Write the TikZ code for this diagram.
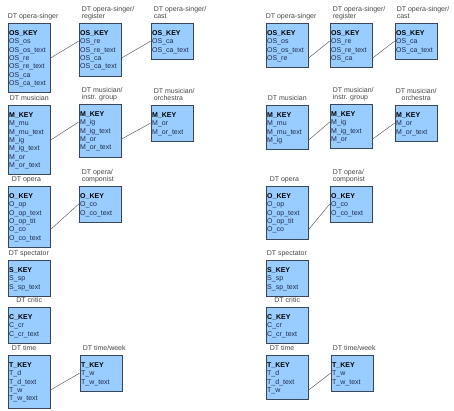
\documentclass[tikz,border=0pt]{standalone}
\usepackage{fontspec}
\setmainfont{Liberation Sans}
\usepackage{tikz}
\usetikzlibrary{positioning,fit,backgrounds,calc}
\usepackage{xcolor}
\definecolor{tablefill}{RGB}{153,204,255}
\definecolor{tableline}{RGB}{55,70,90}
\definecolor{fieldtext}{RGB}{30,45,80}
\definecolor{titletext}{RGB}{70,70,70}
\definecolor{linkgray}{RGB}{95,95,95}

\tikzset{
  dtbox/.style={draw=tableline, fill=tablefill, line width=0.75pt,
    inner xsep=1pt, inner ysep=5.5pt},
  keyrow/.style={font=\fontsize{7}{8}\selectfont\bfseries, text=black,
    inner sep=0pt, text width=40pt, align=left,
    text height=6.5pt, text depth=1.5pt},
  fieldrow/.style={keyrow, font=\fontsize{7}{8}\selectfont, text=fieldtext},
  dttitle/.style={font=\fontsize{7}{7}\selectfont, text=titletext,
    inner sep=0pt, text depth=1.5pt, align=left, anchor=south west},
  link/.style={draw=linkgray, line width=0.5pt}
}

% table: name, top-left corner, key, fields
\newcommand\dtable[4]{%
  \node[keyrow, anchor=north west] (#1-0) at ($(#2)+(1,5.5)$) {#3};
  \foreach \f [count=\i, remember=\i as \j (initially 0)] in {#4}
    {\node[fieldrow, anchor=north west] (#1-\i) at (#1-\j.south west) {\f};
     \xdef\dtlast{\i}}
  \begin{scope}[on background layer]
    \node[dtbox, fit=(#1-0) (#1-\dtlast)] (#1) {};
  \end{scope}}

\begin{document}
\begin{tikzpicture}[x=1pt, y=-1pt]
    \useasboundingbox (0,0) rectangle (454,410);
    % ---- left column: full tables
    \dtable{os}{8,23}{OS\_KEY}{OS\_os, OS\_os\_text, OS\_re, OS\_re\_text, OS\_ca, OS\_ca\_text}
    \dtable{osre}{79,23}{OS\_KEY}{OS\_re, OS\_re\_text, OS\_ca, OS\_ca\_text}
    \dtable{osca}{151,23}{OS\_KEY}{OS\_ca, OS\_ca\_text}
    \dtable{mu}{8,105}{M\_KEY}{M\_mu, M\_mu\_text, M\_ig, M\_ig\_text, M\_or, M\_or\_text}
    \dtable{mig}{79,104}{M\_KEY}{M\_ig, M\_ig\_text, M\_or, M\_or\_text}
    \dtable{mor}{151,105}{M\_KEY}{M\_or, M\_or\_text}
    \dtable{op}{8,186}{O\_KEY}{O\_op, O\_op\_text, O\_op\_tit, O\_co, O\_co\_text}
    \dtable{oco}{79,186}{O\_KEY}{O\_co, O\_co\_text}
    \dtable{sp}{8,260}{S\_KEY}{S\_sp, S\_sp\_text}
    \dtable{cr}{8,307}{C\_KEY}{C\_cr, C\_cr\_text}
    \dtable{ti}{8,355}{T\_KEY}{T\_d, T\_d\_text, T\_w, T\_w\_text}
    \dtable{tw}{80,355}{T\_KEY}{T\_w, T\_w\_text}
    % ---- right column: reduced tables
    \dtable{ros}{266,23}{OS\_KEY}{OS\_os, OS\_os\_text, OS\_re}
    \dtable{rosre}{330,23}{OS\_KEY}{OS\_re, OS\_re\_text, OS\_ca}
    \dtable{rosca}{395,23}{OS\_KEY}{OS\_ca, OS\_ca\_text}
    \dtable{rmu}{266,105}{M\_KEY}{M\_mu, M\_mu\_text, M\_ig}
    \dtable{rmig}{330,104}{M\_KEY}{M\_ig, M\_ig\_text, M\_or}
    \dtable{rmor}{395,105}{M\_KEY}{M\_or, M\_or\_text}
    \dtable{rop}{266,186}{O\_KEY}{O\_op, O\_op\_text, O\_op\_tit, O\_co}
    \dtable{roco}{330,186}{O\_KEY}{O\_co, O\_co\_text}
    \dtable{rsp}{266,260}{S\_KEY}{S\_sp, S\_sp\_text}
    \dtable{rcr}{266,307}{C\_KEY}{C\_cr, C\_cr\_text}
    \dtable{rti}{266,355}{T\_KEY}{T\_d, T\_d\_text, T\_w}
    \dtable{rtw}{331,355}{T\_KEY}{T\_w, T\_w\_text}

    % Titles
    \node[dttitle] (os-t)   at ([yshift=2pt]os.north west) {DT opera-singer};
    \node[dttitle] (osre-t) at ([xshift=3pt,yshift=2pt]osre.north west) {DT opera-singer/\\register};
    \node[dttitle] (osca-t) at ([xshift=3pt,yshift=2pt]osca.north west) {DT opera-singer/\\cast};
    \node[dttitle] (mu-t)   at ([xshift=2pt,yshift=2pt]mu.north west) {DT musician};
    \node[dttitle] (mig-t)  at ([xshift=3pt,yshift=2pt]mig.north west) {DT musician/\\instr. group};
    \node[dttitle] (mor-t)  at ([xshift=3pt,yshift=2pt]mor.north west) {DT musician/\\orchestra};
    \node[dttitle] (op-t)   at ([xshift=4pt,yshift=2pt]op.north west) {DT opera};
    \node[dttitle] (oco-t)  at ([xshift=3pt,yshift=2pt]oco.north west) {DT opera/\\componist};
    \node[dttitle] (sp-t)   at ([xshift=1pt,yshift=2pt]sp.north west) {DT spectator};
    \node[dttitle, anchor=south] (cr-t) at ([yshift=2pt]cr.north) {DT critic};
    \node[dttitle] (ti-t)   at ([xshift=4pt,yshift=2pt]ti.north west) {DT time};
    \node[dttitle] (tw-t)   at ([xshift=3pt,yshift=2pt]tw.north west) {DT time/week};

    \node[dttitle] (ros-t)   at ([yshift=2pt]ros.north west) {DT opera-singer};
    \node[dttitle] (rosre-t) at ([xshift=3pt,yshift=2pt]rosre.north west) {DT opera-singer/\\register};
    \node[dttitle] (rosca-t) at ([xshift=2pt,yshift=2pt]rosca.north west) {DT opera-singer/\\cast};
    \node[dttitle] (rmu-t)   at ([xshift=2pt,yshift=2pt]rmu.north west) {DT musician};
    \node[dttitle] (rmig-t)  at ([xshift=3pt,yshift=2pt]rmig.north west) {DT musician/\\instr. group};
    \node[dttitle, align=center, anchor=south] (rmor-t) at ([yshift=2pt]rmor.north) {DT musician/\\orchestra};
    \node[dttitle] (rop-t)   at ([xshift=4pt,yshift=2pt]rop.north west) {DT opera};
    \node[dttitle] (roco-t)  at ([xshift=3pt,yshift=2pt]roco.north west) {DT opera/\\componist};
    \node[dttitle] (rsp-t)   at ([xshift=1pt,yshift=2pt]rsp.north west) {DT spectator};
    \node[dttitle, anchor=south] (rcr-t) at ([yshift=2pt]rcr.north) {DT critic};
    \node[dttitle] (rti-t)   at ([xshift=4pt,yshift=2pt]rti.north west) {DT time};
    \node[dttitle] (rtw-t)   at ([xshift=2pt,yshift=2pt]rtw.north west) {DT time/week};

    % Links: field row -> field row
    \foreach \a/\ra/\b/\rb in {os/3/osre/1, osre/3/osca/1, mu/3/mig/1, mig/3/mor/1,
        op/4/oco/1, ti/3/tw/1, ros/3/rosre/1, rosre/3/rosca/1, rmu/3/rmig/1,
        rmig/3/rmor/1, rop/4/roco/1, rti/3/rtw/1}
      \draw[link] (\a-\ra.east -| \a.east) -- (\b-\rb.west -| \b.west);
\end{tikzpicture}
\end{document}
